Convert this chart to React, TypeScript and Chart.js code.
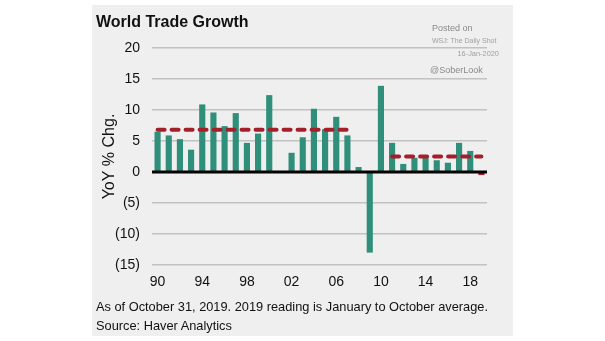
import React, { useEffect, useRef } from 'react';
import { Chart, registerables } from 'chart.js';

Chart.register(...registerables);

// ---- Data ----
const years = [
  '1990', '1991', '1992', '1993', '1994', '1995', '1996', '1997', '1998', '1999',
  '2000', '2001', '2002', '2003', '2004', '2005', '2006', '2007', '2008', '2009',
  '2010', '2011', '2012', '2013', '2014', '2015', '2016', '2017', '2018', '2019',
];
const tradeGrowth = [
  6.5, 5.9, 5.3, 3.6, 10.9, 9.6, 7.4, 9.5, 4.7, 6.2,
  12.4, 0, 3.1, 5.6, 10.2, 6.9, 8.9, 5.9, 0.8, -13.0,
  13.9, 4.7, 1.3, 2.3, 2.3, 1.9, 1.5, 4.7, 3.4, -0.5,
];
const xTickLabels = ['90', '94', '98', '02', '06', '10', '14', '18'];
const yTickValues = [-15, -10, -5, 0, 5, 10, 15, 20];

const preCrisisAvg = 6.8;
const preCrisisRange = ['1990', '2007'];
const postCrisisAvg = 2.5;
const postCrisisRange = ['2011', '2019'];
const highlightYear = '2019';

// ---- Styles ----
const TEAL = '#2f8f7b';
const RED = '#a3202b';
const FONT = '"Liberation Sans", Arial, Helvetica, sans-serif';

const zeroLinePlugin = {
  id: 'zeroLine',
  afterDatasetsDraw(chart: any) {
    const { ctx, chartArea, scales } = chart;
    const y = scales.y.getPixelForValue(0);
    ctx.save();
    ctx.strokeStyle = '#000';
    ctx.lineWidth = 3;
    ctx.beginPath();
    ctx.moveTo(chartArea.left, y);
    ctx.lineTo(chartArea.right, y);
    ctx.stroke();
    ctx.restore();
  },
};

const inRange = (y: string, r: string[]) => y >= r[0] && y <= r[1];

export default function App() {
  const canvasRef = useRef<HTMLCanvasElement | null>(null);

  useEffect(() => {
    if (!canvasRef.current) return;
    const avgLine = (value: number, range: string[]) =>
      ({
        type: 'line',
        data: years.map((y) => (inRange(y, range) ? value : null)),
        borderColor: RED,
        borderWidth: 4,
        borderDash: [7, 7],
        borderCapStyle: 'round',
        pointRadius: 0,
        fill: false,
        order: 0,
      } as any);
    const chart = new Chart(canvasRef.current, {
      type: 'bar',
      data: {
        labels: years,
        datasets: [
          avgLine(preCrisisAvg, preCrisisRange),
          avgLine(postCrisisAvg, postCrisisRange),
          {
            type: 'bar',
            data: tradeGrowth,
            backgroundColor: years.map((y) => (y === highlightYear ? RED : TEAL)),
            barPercentage: 0.55,
            categoryPercentage: 1,
            order: 1,
          },
        ],
      },
      options: {
        responsive: false,
        animation: false,
        layout: { padding: { left: 0, right: 26, top: 43, bottom: 41 } },
        plugins: {
          legend: { display: false },
          tooltip: { enabled: false },
        },
        scales: {
          x: {
            grid: { display: false, drawTicks: false },
            border: { display: false },
            ticks: {
              autoSkip: false,
              maxRotation: 0,
              padding: 9,
              color: '#111',
              font: { family: FONT, size: 14 },
              callback: (_v: any, i: number) => {
                const short = years[i].slice(2);
                return xTickLabels.includes(short) ? short : '';
              },
            },
            afterFit: (s: any) => {
              s.height = 30;
            },
          },
          y: {
            min: -15,
            max: 20,
            afterBuildTicks: (s: any) => {
              s.ticks = yTickValues.map((v) => ({ value: v }));
            },
            grid: { color: '#c2c2c2', lineWidth: 1.5, drawTicks: false },
            border: { display: false },
            ticks: {
              padding: 12,
              color: '#111',
              font: { family: FONT, size: 14 },
              callback: (v: any) => (v < 0 ? `(${-v})` : `${v}`),
            },
            title: {
              display: true,
              text: 'YoY % Chg.',
              color: '#111',
              font: { family: FONT, size: 16 },
              padding: { top: 8, bottom: 0 },
            },
            afterFit: (s: any) => {
              s.width = 60;
            },
          },
        },
      },
      plugins: [zeroLinePlugin],
    });
    return () => chart.destroy();
  }, []);

  const abs = (style: React.CSSProperties): React.CSSProperties => ({
    position: 'absolute',
    whiteSpace: 'nowrap',
    fontFamily: FONT,
    ...style,
  });

  return (
    <div style={{ position: 'absolute', left: 0, top: 0, width: 605, height: 341, background: '#fff', overflow: 'hidden' }}>
      <div style={{ position: 'absolute', left: 92, top: 5, width: 421, height: 331, background: '#efefef' }} />
      <canvas
        ref={canvasRef}
        width={421}
        height={331}
        style={{ position: 'absolute', left: 92, top: 5, width: 421, height: 331 }}
      />
      <div style={abs({ left: 96, top: 12, fontSize: 16, lineHeight: '19px', fontWeight: 'bold', color: '#111' })}>
        World Trade Growth
      </div>
      <div style={abs({ left: 432, top: 22.5, fontSize: 9, lineHeight: '10px', color: '#8a8a8a' })}>Posted on</div>
      <div style={abs({ left: 432, top: 37, fontSize: 7, lineHeight: '8px', color: '#a0a0a0' })}>WSJ: The Daily Shot</div>
      <div style={abs({ right: 605 - 499, top: 49.5, fontSize: 7.4, lineHeight: '8px', color: '#a0a0a0' })}>16-Jan-2020</div>
      <div style={abs({ left: 430, top: 65, fontSize: 9, lineHeight: '10px', color: '#8a8a8a' })}>@SoberLook</div>
      <div style={abs({ left: 96, top: 298.5, fontSize: 12.8, lineHeight: '15px', color: '#111' })}>
        As of October 31, 2019. 2019 reading is January to October average.
      </div>
      <div style={abs({ left: 96, top: 317.5, fontSize: 12.8, lineHeight: '15px', color: '#111' })}>
        Source: Haver Analytics
      </div>
    </div>
  );
}
